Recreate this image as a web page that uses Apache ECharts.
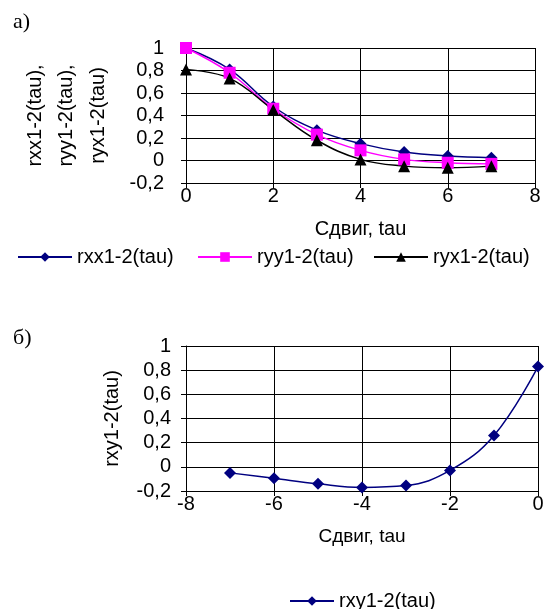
<!DOCTYPE html>
<html><head><meta charset="utf-8">
<script src="https://cdn.jsdelivr.net/npm/echarts@6/dist/echarts.min.js"></script>
<style>html,body{margin:0;padding:0;background:#fff}#c{width:550px;height:609px}</style>
</head><body><div id="c"></div>
<script>
const tau1 = [0, 1, 2, 3, 4, 5, 6, 7];
const rxx = [1.0, 0.81, 0.48, 0.27, 0.15, 0.075, 0.04, 0.025];
const ryy = [1.0, 0.78, 0.46, 0.23, 0.09, 0.01, -0.02, -0.03];
const ryx = [0.81, 0.73, 0.45, 0.18, 0.01, -0.05, -0.065, -0.05];
const tau2 = [-7, -6, -5, -4, -3, -2, -1, 0];
const rxy = [-0.05, -0.095, -0.14, -0.17, -0.155, -0.03, 0.26, 0.83];
const names1 = ['rxx1-2(tau)', 'ryy1-2(tau)', 'ryx1-2(tau)'];
const name2 = 'rxy1-2(tau)';
const yTitle1 = 'rxx1-2(tau),\nryy1-2(tau),\nryx1-2(tau)';
const yTitle2 = 'rxy1-2(tau)';
const xTitle = 'Сдвиг, tau';

const FONT = 'Liberation Sans, Arial, sans-serif';
const fmt = v => String(+(+v).toFixed(1)).replace('.', ',');
const pairs = (xs, ys) => xs.map((x, i) => [x, ys[i]]);

function xAx(grid, min, max, fs) {
  return {
    type: 'value', gridIndex: grid, min: min, max: max, interval: 2,
    name: xTitle, nameLocation: 'middle', nameGap: 36,
    nameTextStyle: {fontFamily: FONT, fontSize: fs, color: '#000'},
    axisLine: {onZero: false, lineStyle: {color: '#000', width: 1}},
    axisTick: {show: true, length: 5, lineStyle: {color: '#000'}},
    axisLabel: {fontFamily: FONT, fontSize: 20, color: '#000', margin: 3, formatter: fmt},
    splitLine: {show: true, lineStyle: {color: '#000', width: 1}}
  };
}
function yAx(grid, name, gap, lh, lm) {
  return {
    type: 'value', gridIndex: grid, min: -0.2, max: 1, interval: 0.2,
    name: name, nameLocation: 'middle', nameRotate: 90, nameGap: gap,
    nameTextStyle: {fontFamily: FONT, fontSize: 20, color: '#000', lineHeight: lh},
    axisLine: {onZero: false, lineStyle: {color: '#000', width: 1}},
    axisTick: {show: true, length: 5, lineStyle: {color: '#000'}},
    axisLabel: {fontFamily: FONT, fontSize: 20, color: '#000', margin: lm, formatter: fmt},
    splitLine: {show: true, lineStyle: {color: '#000', width: 1}}
  };
}
function leg(names, left, top, w) {
  return {data: names, left: left, top: top, padding: 0, itemWidth: w, itemHeight: 12,
          textStyle: {fontFamily: FONT, fontSize: 20, color: '#000'}};
}

const chart = echarts.init(document.getElementById('c'));
chart.setOption({
  animation: false,
  backgroundColor: '#fff',
  graphic: [
    {type: 'text', left: 13, top: 11, style: {text: 'а)', font: '22px "Liberation Serif", serif', fill: '#000'}},
    {type: 'text', left: 13, top: 327, style: {text: 'б)', font: '22px "Liberation Serif", serif', fill: '#000'}}
  ],
  grid: [
    {left: 186, top: 48, width: 349, height: 135},
    {left: 186, top: 346, width: 352, height: 145}
  ],
  xAxis: [xAx(0, 0, 8, 20), xAx(1, -8, 0, 19)],
  yAxis: [yAx(0, yTitle1, 72, 31.5, 22), yAx(1, yTitle2, 63, 22, 15)],
  legend: [
    leg([names1[0]], 17, 247, 54),
    leg([names1[1]], 197, 247, 54),
    leg([names1[2]], 373, 247, 54),
    leg([name2], 289, 591, 44)
  ],
  series: [
    {name: names1[0], type: 'line', xAxisIndex: 0, yAxisIndex: 0, data: pairs(tau1, rxx), smooth: 0.4,
     symbol: 'diamond', symbolSize: 12, color: '#000080', lineStyle: {color: '#000080', width: 1.5}},
    {name: names1[1], type: 'line', xAxisIndex: 0, yAxisIndex: 0, data: pairs(tau1, ryy), smooth: 0.4,
     symbol: 'rect', symbolSize: 12, color: '#FF00FF', lineStyle: {color: '#FF00FF', width: 1.5}},
    {name: names1[2], type: 'line', xAxisIndex: 0, yAxisIndex: 0, data: pairs(tau1, ryx), smooth: 0.4,
     symbol: 'triangle', symbolSize: 12, color: '#000000', lineStyle: {color: '#000000', width: 1.5}},
    {name: name2, type: 'line', xAxisIndex: 1, yAxisIndex: 1, data: pairs(tau2, rxy), smooth: 0.4,
     symbol: 'diamond', symbolSize: 12, color: '#000080', lineStyle: {color: '#000080', width: 1.5}}
  ]
});
</script></body></html>
